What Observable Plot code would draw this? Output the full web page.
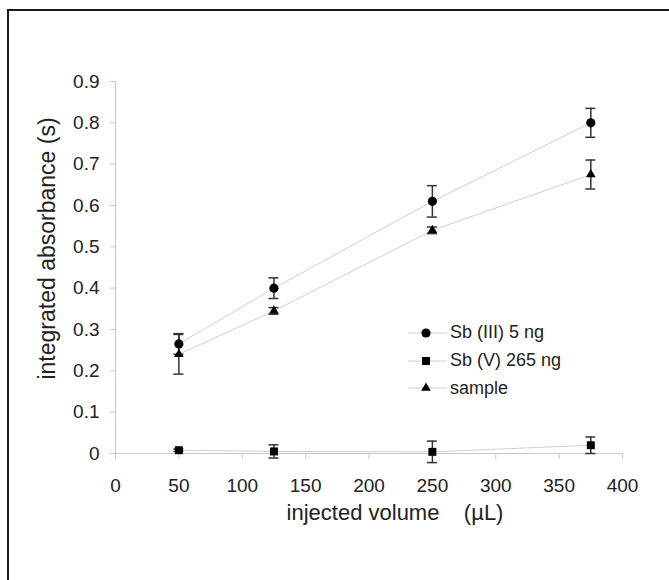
<!DOCTYPE html>
<html><head><meta charset="utf-8">
<script src="https://cdn.jsdelivr.net/npm/d3@7"></script>
<script src="https://cdn.jsdelivr.net/npm/@observablehq/plot@0.6"></script>
<style>
body{margin:0;background:#fff;font-family:"Liberation Sans",Arial,sans-serif;}
#wrap{position:relative;width:669px;height:580px;overflow:hidden;background:#fff;}
#chart{position:absolute;left:0;top:0;}
#border{position:absolute;left:7px;top:9px;width:720px;height:640px;border-top:2px solid #1a1a1a;border-left:2px solid #1a1a1a;pointer-events:none;}
#legend{position:absolute;left:407px;top:319px;font-size:18px;color:#222;}
.row{display:flex;align-items:center;height:27.7px;white-space:nowrap;}
.row svg{margin-right:2px;}
</style></head><body>
<div id="wrap"><div id="chart"></div><div id="border"></div><div id="legend"></div></div>
<script>
// ---- data ----
const volumes = [50, 125, 250, 375];
const seriesNames = ["Sb (III) 5 ng", "Sb (V) 265 ng", "sample"];
const sb3 = [0.265, 0.40, 0.61, 0.80];
const sb3Err = [0.025, 0.025, 0.038, 0.035];
const sb5 = [0.008, 0.005, 0.004, 0.02];
const sb5Err = [0.003, 0.016, 0.026, 0.02];
const sampleVals = [0.24, 0.345, 0.54, 0.675];
const sampleErr = [0.048, 0.008, 0.008, 0.035];
const xTicks = [0, 50, 100, 150, 200, 250, 300, 350, 400];
const yTicks = [0, 0.1, 0.2, 0.3, 0.4, 0.5, 0.6, 0.7, 0.8, 0.9];
const xTitle = "injected volume\u00a0\u00a0\u00a0\u00a0(\u00b5L)";
const yTitle = "integrated absorbance (s)";

const valueSets = [sb3, sb5, sampleVals];
const errSets = [sb3Err, sb5Err, sampleErr];
const symbols = ["circle", "square", "triangle"];
const radii = [4.6, 4.5, 3.6];

const rows = [];
seriesNames.forEach((s, i) => volumes.forEach((v, j) => rows.push({
  series: s, x: v, y: valueSets[i][j], lo: valueSets[i][j] - errSets[i][j], hi: valueSets[i][j] + errSets[i][j]
})));

const ink = "#222";
const errColor = "#333";
const axisGray = "#c8c8c8";
const lineGray = "#cfcfcf";

const dotMarks = seriesNames.map((s, i) =>
  Plot.dot(rows.filter(d => d.series === s), {x: "x", y: "y", symbol: symbols[i], r: radii[i], fill: "#000", stroke: "none"}));

const chart = Plot.plot({
  width: 669, height: 580,
  marginLeft: 115, marginRight: 47, marginTop: 81, marginBottom: 127,
  style: {fontFamily: '"Liberation Sans", Arial, sans-serif', fontSize: "19px", background: "transparent", overflow: "visible"},
  x: {domain: [0, 400]},
  y: {domain: [0, 0.9]},
  marks: [
    Plot.ruleX([0], {stroke: axisGray, strokeWidth: 1.2}),
    Plot.ruleY([0], {stroke: axisGray, strokeWidth: 1.2}),
    Plot.axisX({ticks: xTicks, tickSize: 6, tickPadding: 19, fontSize: 19, stroke: axisGray, fill: ink, label: null, tickFormat: d => String(d)}),
    Plot.axisY({ticks: yTicks, tickSize: 5, tickPadding: 11, fontSize: 19, stroke: axisGray, fill: ink, label: null, tickFormat: d => d === 0 ? "0" : d.toFixed(1)}),
    Plot.line(rows, {x: "x", y: "y", z: "series", stroke: lineGray, strokeWidth: 1}),
    Plot.ruleX(rows, {x: "x", y1: "lo", y2: "hi", stroke: errColor, strokeWidth: 1.5}),
    Plot.ruleY(rows, {x1: "x", x2: "x", y: "hi", insetLeft: -5, insetRight: -5, stroke: errColor, strokeWidth: 1.5}),
    Plot.ruleY(rows, {x1: "x", x2: "x", y: "lo", insetLeft: -5, insetRight: -5, stroke: errColor, strokeWidth: 1.5}),
    ...dotMarks,
    Plot.text([xTitle], {frameAnchor: "bottom", dx: 26, dy: 66, fontSize: 22, fill: ink}),
    Plot.text([yTitle], {frameAnchor: "left", textAnchor: "middle", rotate: -90, dx: -68, dy: -19, fontSize: 23, fill: ink})
  ]
});
document.getElementById("chart").appendChild(chart);

// ---- legend ----
const legend = d3.select("#legend");
seriesNames.forEach((s, i) => {
  const row = legend.append("div").attr("class", "row");
  const svg = row.append("svg").attr("width", 41).attr("height", 20);
  svg.append("line").attr("x1", 1).attr("x2", 40).attr("y1", 10).attr("y2", 10).attr("stroke", lineGray).attr("stroke-width", 1.2);
  const sym = d3.symbol().type([d3.symbolCircle, d3.symbolSquare, d3.symbolTriangle][i]).size(Math.PI * radii[i] * radii[i]);
  svg.append("path").attr("d", sym()).attr("transform", "translate(19,10)").attr("fill", "#000");
  row.append("span").text(s);
});
</script>
</body></html>
